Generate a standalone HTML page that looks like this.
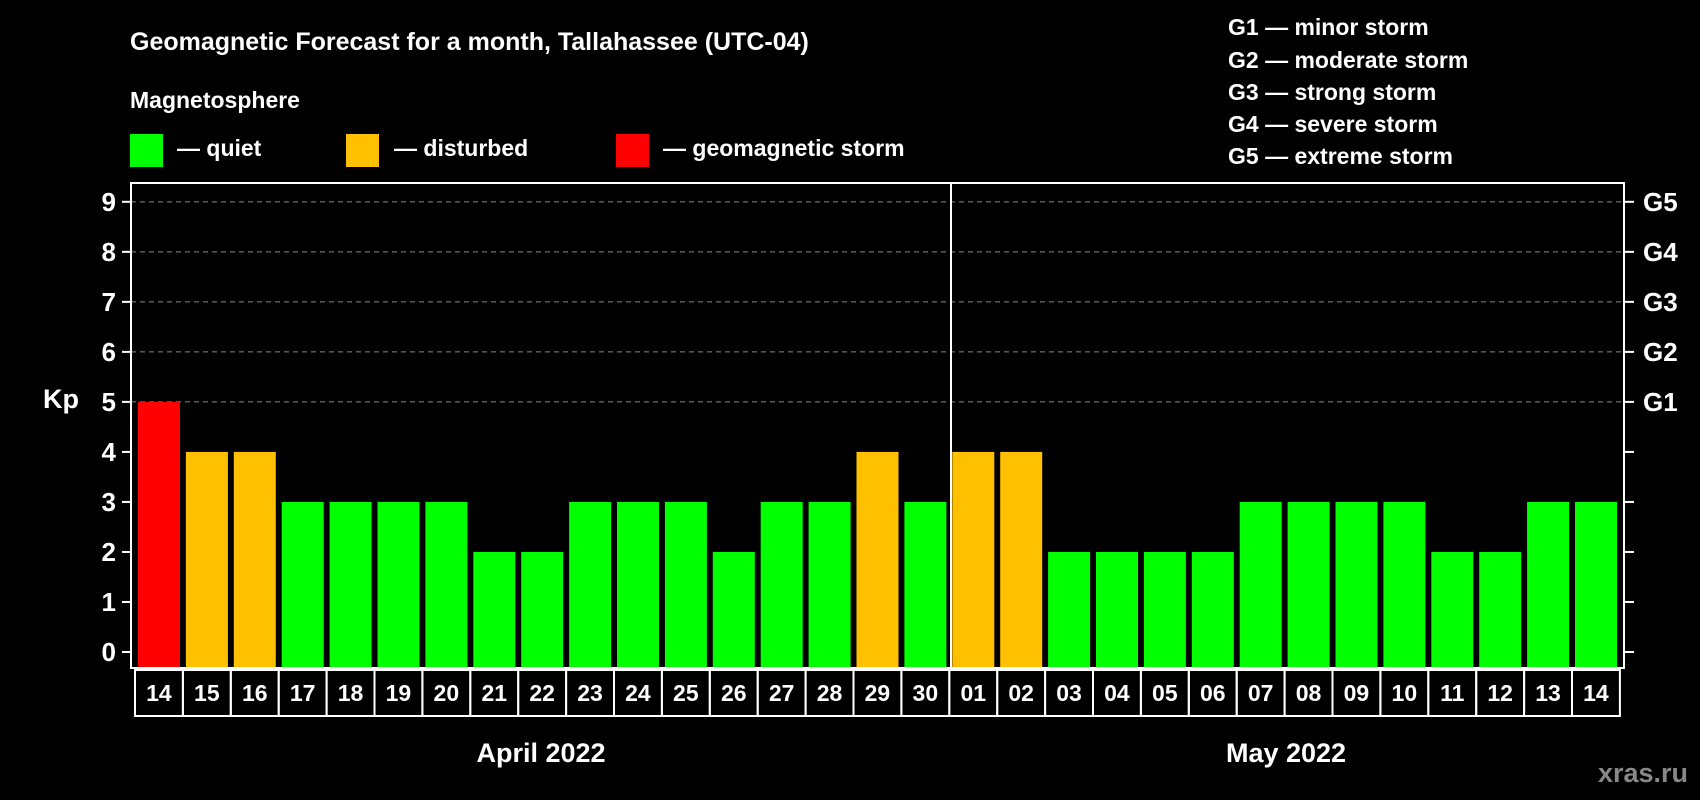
<!DOCTYPE html>
<html><head><meta charset="utf-8"><style>
html,body{margin:0;padding:0;background:#000;}
svg{display:block;font-family:"Liberation Sans",Arial,sans-serif;font-weight:bold;}
</style></head><body>
<svg id="chart" width="1700" height="800" viewBox="0 0 1700 800">
<text x="130" y="50" fill="#fff" font-size="25">Geomagnetic Forecast for a month, Tallahassee (UTC-04)</text>
<text x="130" y="108" fill="#fff" font-size="23">Magnetosphere</text>
<g><rect x="130" y="134" width="33" height="33" fill="#00ff00"/><text x="177" y="156" fill="#fff" font-size="23">— quiet</text></g>
<g><rect x="346" y="134" width="33" height="33" fill="#ffc000"/><text x="394" y="156" fill="#fff" font-size="23">— disturbed</text></g>
<g><rect x="616" y="134" width="33" height="33" fill="#ff0000"/><text x="663" y="156" fill="#fff" font-size="23">— geomagnetic storm</text></g>
<g fill="#fff" font-size="23">
<text x="1228" y="35">G1 — minor storm</text>
<text x="1228" y="68">G2 — moderate storm</text>
<text x="1228" y="100">G3 — strong storm</text>
<text x="1228" y="132">G4 — severe storm</text>
<text x="1228" y="164">G5 — extreme storm</text>
</g>
<text x="43" y="408" fill="#fff" font-size="27">Kp</text>
<g id="grid"></g>
<g id="bars"></g>
<rect x="131" y="183" width="1493" height="485" fill="none" stroke="#fff" stroke-width="2"/>
<line x1="951" y1="183" x2="951" y2="668" stroke="#fff" stroke-width="2"/>
<g id="days"></g>
<text x="541" y="762" fill="#fff" font-size="27" text-anchor="middle">April 2022</text>
<text x="1286" y="762" fill="#fff" font-size="27" text-anchor="middle">May 2022</text>
<text x="1688" y="782" fill="#888" font-size="27" text-anchor="end">xras.ru</text>
</svg>
<script>
const days=["14","15","16","17","18","19","20","21","22","23","24","25","26","27","28","29","30","01","02","03","04","05","06","07","08","09","10","11","12","13","14"];
const kp=[5,4,4,3,3,3,3,2,2,3,3,3,2,3,3,4,3,4,4,2,2,2,2,3,3,3,3,2,2,3,3];
const yTicks=[0,1,2,3,4,5,6,7,8,9];
const gLabels=["G1","G2","G3","G4","G5"];
const NS="http://www.w3.org/2000/svg";
const x0=135,slot=47.9,y0=652,unit=50.02;
const y=v=>y0-v*unit;
const mk=(t,a,p)=>{const e=document.createElementNS(NS,t);for(const k in a)e.setAttribute(k,a[k]);p.appendChild(e);return e;};
const grid=document.getElementById('grid'),bars=document.getElementById('bars'),dg=document.getElementById('days');
yTicks.forEach(v=>{
  const t=mk('text',{x:116,y:y(v)+9,fill:'#fff','font-size':26,'text-anchor':'end'},grid);t.textContent=v;
  
  
  mk('line',{x1:122,x2:131,y1:y(v),y2:y(v),stroke:'#fff','stroke-width':2},grid);
  mk('line',{x1:1624,x2:1634,y1:y(v),y2:y(v),stroke:'#fff','stroke-width':2},grid);
  if(v>=5){
    mk('line',{x1:131,x2:1624,y1:y(v),y2:y(v),stroke:'#888','stroke-width':1,'stroke-dasharray':'5,4'},grid);
    const g=mk('text',{x:1643,y:y(v)+9,fill:'#fff','font-size':26},grid);g.textContent=gLabels[v-5];
    
    
  }
});
kp.forEach((v,i)=>{
  const c=v>=5?'#ff0000':(v>=4?'#ffc000':'#00ff00');
  const r=mk('rect',{x:x0+slot*i+3,y:y(v),width:42,height:y0+16-y(v),fill:c},bars);
  
  
  const b=mk('rect',{x:x0+slot*i,y:670,width:slot,height:46,fill:'none',stroke:'#fff','stroke-width':2},dg);
  
  
  const t=mk('text',{x:x0+slot*(i+0.5),y:701,fill:'#fff','font-size':23,'text-anchor':'middle'},dg);t.textContent=days[i];
  
  
});
</script>
</body></html>
